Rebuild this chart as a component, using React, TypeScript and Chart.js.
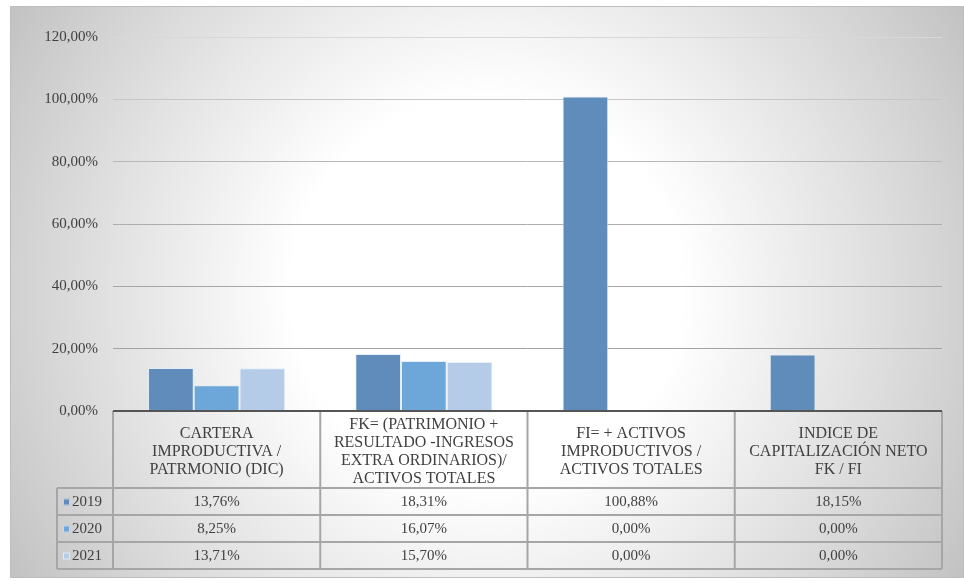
import React, { useEffect, useRef } from "react";
import { Chart, registerables } from "chart.js";

Chart.register(...registerables);

const categoryLines: string[][] = [
  ["CARTERA", "IMPRODUCTIVA /", "PATRMONIO (DIC)"],
  ["FK= (PATRIMONIO +", "RESULTADO -INGRESOS", "EXTRA ORDINARIOS)/", "ACTIVOS TOTALES"],
  ["FI= + ACTIVOS", "IMPRODUCTIVOS /", "ACTIVOS TOTALES"],
  ["INDICE DE", "CAPITALIZACIÓN NETO", "FK / FI"],
];
const categories = categoryLines.map((l) => l.join(" "));
const seriesNames = ["2019", "2020", "2021"];
const values2019 = [13.76, 18.31, 100.88, 18.15];
const values2020 = [8.25, 16.07, 0.0, 0.0];
const values2021 = [13.71, 15.7, 0.0, 0.0];
const seriesColors = ["#5f8cba", "#6da6d9", "#b5cce9"];
const yTicks = [0, 20, 40, 60, 80, 100, 120];

const FONT = '"Liberation Serif", "Times New Roman", serif';
const TEXT = "#404040";

const fmt = (v: number) => v.toFixed(2).replace(".", ",") + "%";

const bgPlugin = {
  id: "bg",
  beforeDraw(chart: any) {
    const ctx = chart.ctx;
    const x0 = 10, y0 = 6, w = 954, h = 572;
    const cx = x0 + w / 2, cy = y0 + h / 2;
    const R = Math.sqrt((w / 2) ** 2 + (h / 2) ** 2);
    const g = ctx.createRadialGradient(cx, cy, 0, cx, cy, R);
    g.addColorStop(0, "#ffffff");
    g.addColorStop(0.35, "#ffffff");
    g.addColorStop(0.55, "#ededed");
    g.addColorStop(0.8, "#d6d6d6");
    g.addColorStop(1, "#c2c2c2");
    ctx.save();
    ctx.fillStyle = g;
    ctx.fillRect(x0, y0, w, h);
    ctx.strokeStyle = "#bdbdbd";
    ctx.lineWidth = 1;
    ctx.strokeRect(x0 + 0.5, y0 + 0.5, w - 1, h - 1);
    ctx.restore();
  },
};

const tablePlugin = {
  id: "dataTable",
  afterDraw(chart: any) {
    const ctx = chart.ctx;
    const area = chart.chartArea;
    const xs = chart.scales.x;
    const n = categories.length;
    const bounds: number[] = [area.left];
    for (let i = 0; i < n - 1; i++) {
      bounds.push((xs.getPixelForValue(i) + xs.getPixelForValue(i + 1)) / 2);
    }
    bounds.push(area.right);
    const top = area.bottom;
    const headerH = 77;
    const rowH = 27;
    const labelLeft = 57;
    const rows = chart.data.datasets.length;
    const bottom = top + headerH + rowH * rows;

    ctx.save();
    ctx.strokeStyle = "#a6a6a6";
    ctx.lineWidth = 2;
    ctx.beginPath();
    for (const b of bounds) {
      ctx.moveTo(b, top);
      ctx.lineTo(b, bottom);
    }
    ctx.moveTo(labelLeft, top + headerH);
    ctx.lineTo(labelLeft, bottom);
    for (let r = 0; r <= rows; r++) {
      const y = top + headerH + r * rowH;
      ctx.moveTo(labelLeft, y);
      ctx.lineTo(area.right, y);
    }
    ctx.stroke();
    ctx.strokeStyle = "#555555";
    ctx.lineWidth = 2;
    ctx.beginPath();
    ctx.moveTo(area.left, top);
    ctx.lineTo(area.right, top);
    ctx.stroke();

    ctx.fillStyle = TEXT;
    ctx.font = `16px ${FONT}`;
    ctx.textAlign = "center";
    ctx.textBaseline = "middle";
    const lh = 18;
    categoryLines.forEach((lines, i) => {
      const cx = xs.getPixelForValue(i);
      const cy = top + 40.5;
      const start = cy - ((lines.length - 1) * lh) / 2;
      lines.forEach((t, k) => ctx.fillText(t, cx, start + k * lh));
    });

    ctx.font = `15px ${FONT}`;
    chart.data.datasets.forEach((ds: any, r: number) => {
      const cy = top + headerH + r * rowH + rowH / 2 + 1;
      ctx.textAlign = "center";
      ctx.fillStyle = TEXT;
      ds.data.forEach((v: number, i: number) => {
        ctx.fillText(fmt(v), xs.getPixelForValue(i), cy);
      });
      ctx.fillStyle = ds.backgroundColor;
      ctx.fillRect(labelLeft + 6, cy - 4, 7, 7);
      ctx.strokeStyle = "rgba(255,255,255,0.6)";
      ctx.lineWidth = 1;
      ctx.strokeRect(labelLeft + 6.5, cy - 3.5, 6, 6);
      ctx.fillStyle = TEXT;
      ctx.textAlign = "left";
      ctx.fillText(ds.label, labelLeft + 15, cy);
    });
    ctx.restore();
  },
};

const gridShade = (v: number) => {
  if (v === 0) return "rgba(0,0,0,0)";
  const map: Record<number, string> = {
    20: "#a3a3a3",
    40: "#a6a6a6",
    60: "#adadad",
    80: "#b8b8b8",
    100: "#c6c6c6",
    120: "#d8d8d8",
  };
  return map[v] || "#b0b0b0";
};

export default function App() {
  const ref = useRef<HTMLCanvasElement | null>(null);
  useEffect(() => {
    if (!ref.current) return;
    const series = [values2019, values2020, values2021];
    const chart = new Chart(ref.current, {
      type: "bar",
      data: {
        labels: categories,
        datasets: series.map((d, i) => ({
          label: seriesNames[i],
          data: d,
          backgroundColor: seriesColors[i],
          borderColor: "rgba(225,235,246,0.8)",
          borderWidth: 1,
          borderSkipped: "bottom",
          barPercentage: 1,
          categoryPercentage: 0.662,
        })),
      },
      options: {
        responsive: false,
        animation: false,
        layout: { padding: { left: 0, top: 37, right: 22, bottom: 170 } },
        plugins: {
          legend: { display: false },
          tooltip: { enabled: false },
        },
        scales: {
          x: { display: false },
          y: {
            min: yTicks[0],
            max: yTicks[yTicks.length - 1],
            afterFit: (s: any) => {
              s.width = 113;
            },
            afterBuildTicks: (s: any) => {
              s.ticks = yTicks.map((v) => ({ value: v }));
            },
            border: { display: false },
            grid: {
              drawTicks: false,
              lineWidth: 1,
              color: (c: any) => gridShade(c.tick ? c.tick.value : 0),
            },
            ticks: {
              padding: 15,
              color: TEXT,
              font: { family: FONT, size: 15 },
              callback: (v: any) => fmt(Number(v)),
            },
          },
        },
      },
      plugins: [bgPlugin, tablePlugin],
    });
    return () => chart.destroy();
  }, []);
  return (
    <canvas
      ref={ref}
      width={964}
      height={581}
      style={{ position: "fixed", left: 0, top: 0, width: 964, height: 581 }}
    />
  );
}
